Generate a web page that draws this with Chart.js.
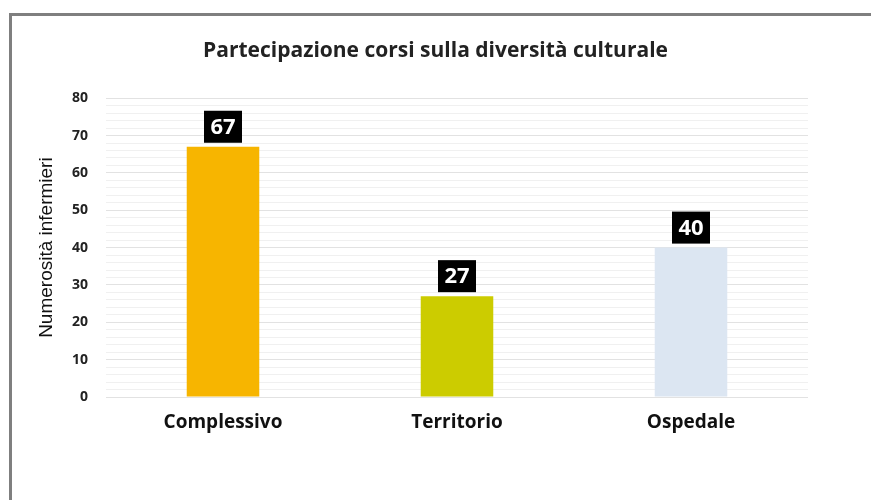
<!DOCTYPE html>
<html>
<head>
<meta charset="utf-8">
<script src="https://cdn.jsdelivr.net/npm/chart.js@4/dist/chart.umd.min.js"></script>
<style>
  html, body { margin: 0; padding: 0; background: #fff; }
  #wrap { position: relative; width: 871px; height: 500px; }
  #frame {
    position: absolute; left: 9px; top: 13px; right: 0; bottom: 0;
    border-top: 3px solid #7f7f7f; border-left: 3px solid #7f7f7f;
    pointer-events: none;
  }
  canvas { position: absolute; left: 0; top: 0; }
</style>
</head>
<body>
<div id="wrap">
  <canvas id="grafico" width="871" height="500"></canvas>
  <div id="frame"></div>
</div>
<script>
const categorie = ["Complessivo", "Territorio", "Ospedale"];
const valori = [67, 27, 40];
const coloriBarre = ["#F7B500", "#CCCC00", "#DCE6F2"];
const titolo = "Partecipazione corsi sulla diversità culturale";
const titoloAsseY = "Numerosità infermieri";

// riquadro nero con il valore sopra ogni barra
const etichetteValori = {
  id: "etichetteValori",
  afterDatasetsDraw(chart) {
    const ctx = chart.ctx;
    const meta = chart.getDatasetMeta(0);
    ctx.save();
    ctx.font = "bold 22px 'Open Sans'";
    ctx.textAlign = "center";
    ctx.textBaseline = "middle";
    meta.data.forEach((bar, i) => {
      const w = 38, h = 32;
      const x = bar.x - w / 2;
      const y = bar.y - 4 - h;
      ctx.fillStyle = "#000";
      ctx.fillRect(x, y, w, h);
      ctx.fillStyle = "#fff";
      ctx.fillText(String(valori[i]), bar.x, y + h / 2 + 1);
    });
    ctx.restore();
  }
};

new Chart(document.getElementById("grafico"), {
  type: "bar",
  data: {
    labels: categorie,
    datasets: [{
      data: valori,
      backgroundColor: coloriBarre,
      borderWidth: 0,
      barPercentage: 0.31,
      categoryPercentage: 1
    }]
  },
  options: {
    responsive: false,
    animation: false,
    layout: { padding: { top: 38, right: 0, left: 0, bottom: 0 } },
    plugins: {
      legend: { display: false },
      tooltip: { enabled: false },
      title: {
        display: true,
        text: titolo,
        color: "#222",
        font: { family: "'Open Sans'", size: 21, weight: "bold" },
        padding: { top: 0, bottom: 35 }
      }
    },
    scales: {
      x: {
        grid: { display: false, drawTicks: false },
        border: { display: false },
        ticks: {
          color: "#111",
          padding: 14,
          font: { family: "'Open Sans'", size: 19, weight: "bold" }
        },
        afterFit(scale) { scale.height = 103; }
      },
      y: {
        min: 0,
        max: 80,
        border: { display: false },
        grid: {
          drawTicks: false,
          color: (c) => (c.tick && c.tick.value % 10 === 0) ? "#e2e2e2" : "#f0f0f0"
        },
        ticks: {
          stepSize: 2,
          autoSkip: false,
          padding: 18,
          color: "#222",
          font: { family: "'Open Sans'", size: 14, weight: "bold" },
          callback: (v) => (v % 10 === 0 ? String(v) : "")
        },
        title: {
          display: true,
          text: titoloAsseY,
          color: "#111",
          font: { family: "'Liberation Sans'", size: 19 },
          padding: { top: 35, bottom: 0 }
        },
        afterFit(scale) { scale.width = 106; }
      },
      // spazio vuoto a destra del grafico
      destra: {
        position: "right",
        min: 0,
        max: 80,
        grid: { display: false, drawTicks: false },
        border: { display: false },
        ticks: { display: false },
        afterFit(scale) { scale.width = 63; }
      }
    }
  },
  plugins: [etichetteValori]
});
</script>
</body>
</html>
